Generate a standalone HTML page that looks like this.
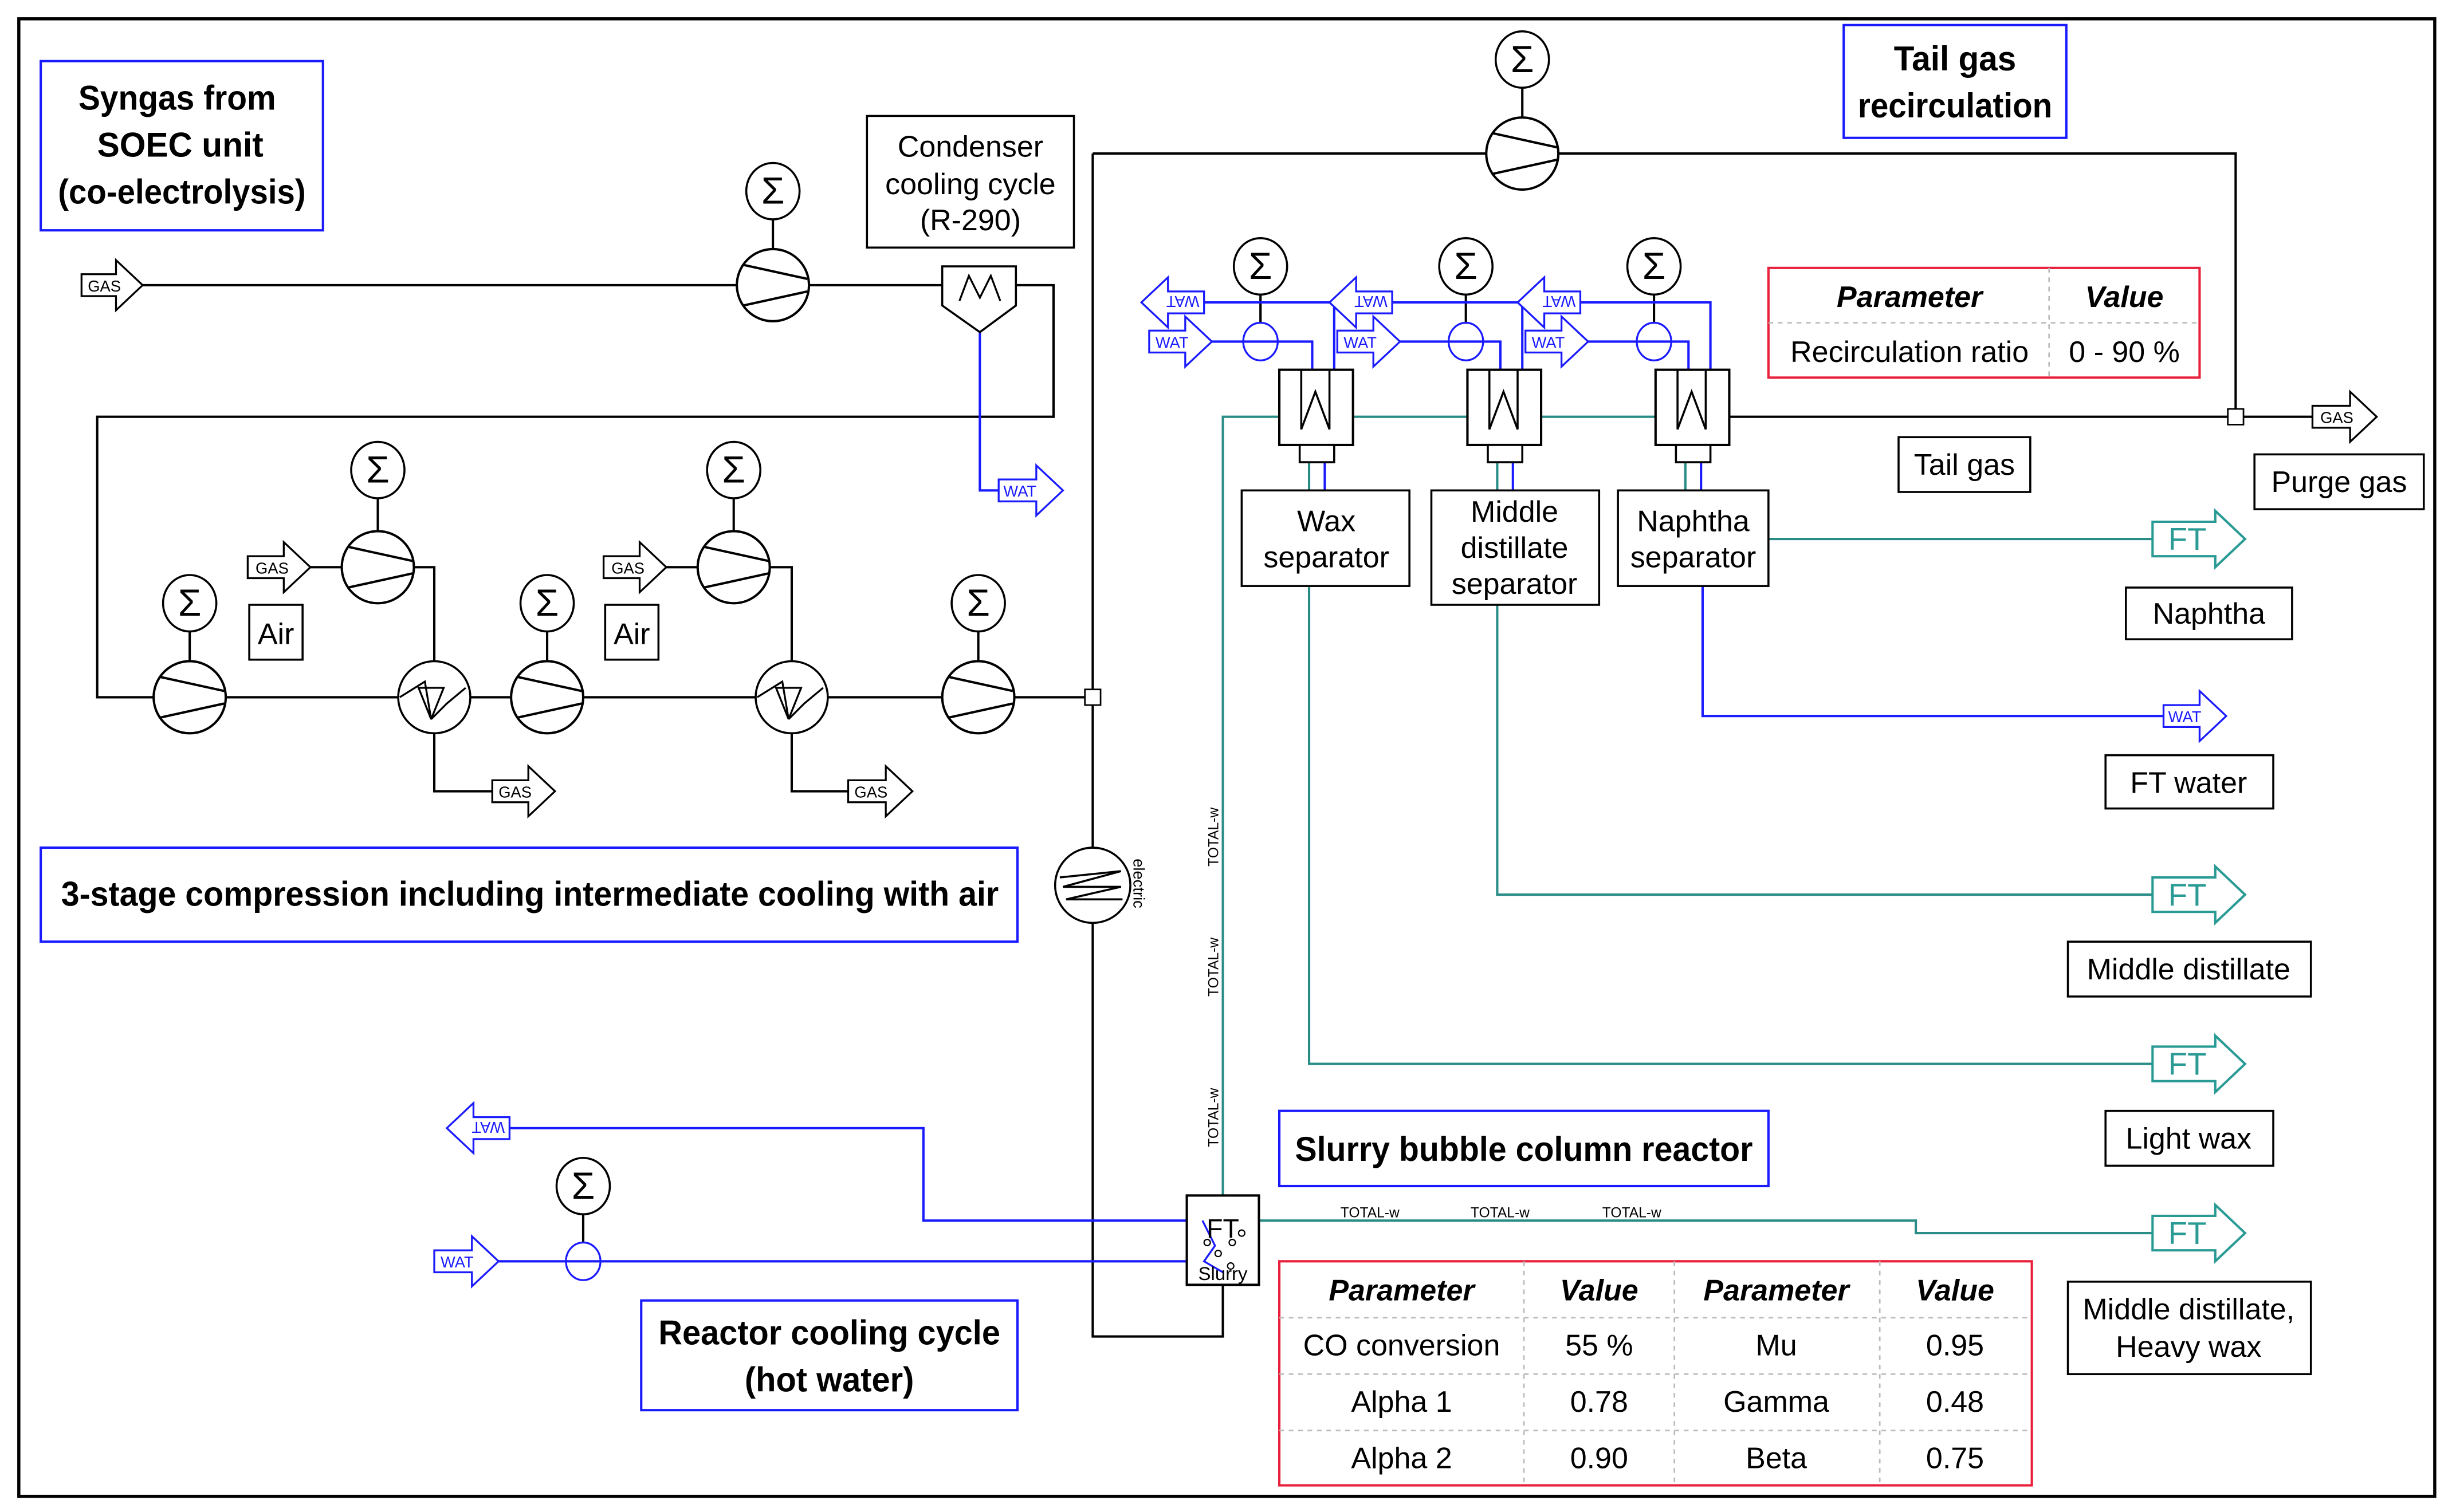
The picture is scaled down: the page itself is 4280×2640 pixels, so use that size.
<!DOCTYPE html>
<html><head><meta charset="utf-8"><style>
html,body{margin:0;padding:0;background:#fff;}
svg{display:block;}
text{font-family:"Liberation Sans",Arial,sans-serif;}
</style></head><body>
<svg width="4280" height="2640" viewBox="0 0 1564 965" preserveAspectRatio="none" xmlns="http://www.w3.org/2000/svg">
<defs>
<g id="comp"><circle r="23" fill="#fff" stroke="#000" stroke-width="1.5"/><line x1="-19" y1="-13" x2="22" y2="-4" stroke="#000" stroke-width="1.5"/><line x1="-19" y1="13" x2="22" y2="4" stroke="#000" stroke-width="1.5"/></g>
<g id="sig"><ellipse rx="17" ry="18" fill="#fff" stroke="#000" stroke-width="1.3"/><text x="0" y="8" font-size="24" text-anchor="middle">Σ</text></g>
<g id="cool"><circle r="23" fill="#fff" stroke="#000" stroke-width="1.3"/><polyline points="-22,0 -6,-10 -2,14 -10,-6 6,-6 -2,14 8,4 20,-6" fill="none" stroke="#000" stroke-width="1.2"/></g>
<g id="hx"><rect x="0" y="0" width="47" height="48" fill="#fff" stroke="#000" stroke-width="1.5"/><polyline points="14,0 14,38 23,14 32,38 32,0" fill="none" stroke="#000" stroke-width="1.3"/><rect x="13" y="48" width="22" height="11" fill="#fff" stroke="#000" stroke-width="1.3"/></g>
</defs>
<rect width="1564" height="965" fill="#fff"/>
<rect x="12" y="12" width="1541" height="943" fill="none" stroke="#000" stroke-width="2"/>

<g fill="none" stroke="#000" stroke-width="1.5">
<polyline points="91,182 601,182"/>
<polyline points="648,182 672,182 672,266 62,266 62,445 697,445"/>
<line x1="493" y1="140" x2="493" y2="159"/>
<line x1="121" y1="403" x2="121" y2="422"/>
<line x1="349" y1="403" x2="349" y2="422"/>
<line x1="624" y1="403" x2="624" y2="422"/>
<line x1="241" y1="318" x2="241" y2="339"/>
<line x1="468" y1="318" x2="468" y2="339"/>
<line x1="971" y1="56" x2="971" y2="75"/>
<line x1="198" y1="362" x2="218" y2="362"/><line x1="425" y1="362" x2="445" y2="362"/>
<polyline points="264,362 277,362 277,422"/>
<polyline points="491,362 505,362 505,422"/>
<polyline points="277,468 277,505 316,505"/>
<polyline points="505,468 505,505 543,505"/>
<polyline points="697,98 697,853 780,853 780,820"/>
<polyline points="697,98 1426,98 1426,266"/>
<polyline points="1102,266 1476,266"/>
<line x1="804" y1="188" x2="804" y2="206"/><line x1="935" y1="188" x2="935" y2="206"/><line x1="1055" y1="188" x2="1055" y2="206"/>
<line x1="372" y1="775" x2="372" y2="793"/>
</g>
<g fill="none" stroke="#2a8c86" stroke-width="1.5">
<polyline points="780,763 780,266 816,266"/>
<line x1="863" y1="266" x2="936" y2="266"/><line x1="983" y1="266" x2="1056" y2="266"/>
<line x1="835" y1="295" x2="835" y2="313"/><line x1="955" y1="295" x2="955" y2="313"/><line x1="1075" y1="295" x2="1075" y2="313"/>
<polyline points="835,374 835,679 1373,679"/>
<polyline points="955,386 955,571 1373,571"/>
<polyline points="1128,344 1373,344"/>
<polyline points="803,779 1222,779 1222,787 1373,787"/>
</g>
<g fill="none" stroke="#1a1aff" stroke-width="1.5">
<polyline points="625,195 625,313 640,313"/>
<line x1="845" y1="295" x2="845" y2="313"/><line x1="965" y1="295" x2="965" y2="313"/><line x1="1085" y1="295" x2="1085" y2="313"/>
<polyline points="1086,374 1086,457 1381,457"/>
<polyline points="318,805 757,805"/>
<polyline points="757,779 589,779 589,720 325,720"/>
<polyline points="773,218 837,218 837,236"/><polyline points="768,193 851,193 851,236"/>
<polyline points="893,218 957,218 957,236"/><polyline points="888,193 971,193 971,236"/>
<polyline points="1013,218 1077,218 1077,236"/><polyline points="1008,193 1091,193 1091,236"/>
</g>

<use href="#sig" x="493" y="122"/><use href="#comp" x="493" y="182"/>
<use href="#sig" x="121" y="385"/><use href="#comp" x="121" y="445"/>
<use href="#sig" x="241" y="300"/><use href="#comp" x="241" y="362"/>
<use href="#sig" x="468" y="300"/><use href="#comp" x="468" y="362"/>
<use href="#sig" x="349" y="385"/><use href="#comp" x="349" y="445"/>
<use href="#sig" x="624" y="385"/><use href="#comp" x="624" y="445"/>
<use href="#cool" x="277" y="445"/><use href="#cool" x="505" y="445"/>
<use href="#sig" x="971" y="38"/><use href="#comp" x="971" y="98"/>
<path d="M601,170 H648 V195 L625,212 L601,195 Z" fill="#fff" stroke="#000" stroke-width="1.3"/>
<polyline points="612,192 618,176 625,190 632,176 638,192" fill="none" stroke="#000" stroke-width="1.2"/>
<rect x="692" y="440" width="10" height="10" fill="#fff" stroke="#000" stroke-width="1"/>
<rect x="1421" y="261" width="10" height="10" fill="#fff" stroke="#000" stroke-width="1"/>
<circle cx="697" cy="565" r="24" fill="#fff" stroke="#000" stroke-width="1.3"/>
<polyline points="676,560 715,556 678,566 715,566 680,574 716,574" fill="none" stroke="#000" stroke-width="1.3"/>
<text x="0" y="0" font-size="10" transform="translate(723,548) rotate(90)">electric</text>
<use href="#hx" x="816" y="236"/><use href="#hx" x="936" y="236"/><use href="#hx" x="1056" y="236"/>
<g fill="#fff" stroke="#1a1aff" stroke-width="1.2">
<ellipse cx="804" cy="218" rx="11" ry="12"/><ellipse cx="935" cy="218" rx="11" ry="12"/><ellipse cx="1055" cy="218" rx="11" ry="12"/>
<ellipse cx="372" cy="805" rx="11" ry="12"/>
</g>
<g fill="none" stroke="#1a1aff" stroke-width="1.5"><line x1="793" y1="218" x2="815" y2="218"/><line x1="924" y1="218" x2="946" y2="218"/><line x1="1044" y1="218" x2="1066" y2="218"/><line x1="361" y1="805" x2="383" y2="805"/></g>
<use href="#sig" x="804" y="170"/><use href="#sig" x="935" y="170"/><use href="#sig" x="1055" y="170"/>
<use href="#sig" x="372" y="757"/>
<rect x="757" y="763" width="46" height="57" fill="#fff" stroke="#000" stroke-width="1.5"/>
<polyline points="767,779 775,795 768,805 780,812" fill="none" stroke="#1a1aff" stroke-width="1.2"/>
<text x="780" y="790" font-size="17" text-anchor="middle">FT</text>
<text x="780" y="817" font-size="12" text-anchor="middle">Slurry</text>
<g fill="none" stroke="#000" stroke-width="0.8"><circle cx="770" cy="793" r="2"/><circle cx="786" cy="793" r="2"/><circle cx="777" cy="800" r="2"/><circle cx="792" cy="787" r="2"/><circle cx="785" cy="808" r="2"/></g>
<g font-size="9" fill="#000">
<text x="855" y="777">TOTAL-w</text><text x="938" y="777">TOTAL-w</text><text x="1022" y="777">TOTAL-w</text>
<text transform="translate(777,553) rotate(-90)">TOTAL-w</text>
<text transform="translate(777,636) rotate(-90)">TOTAL-w</text>
<text transform="translate(777,732) rotate(-90)">TOTAL-w</text>
</g>

<g fill="#fff" stroke="#000" stroke-width="1.2">
<path d="M52,175 H74 V166 L91,182 L74,198 V189 H52 Z"/>
<path d="M158,355 H181 V346 L198,362 L181,378 V369 H158 Z"/>
<path d="M385,355 H408 V346 L425,362 L408,378 V369 H385 Z"/>
<path d="M314,498 H337 V489 L354,505 L337,521 V512 H314 Z"/>
<path d="M541,498 H565 V489 L582,505 L565,521 V512 H541 Z"/>
<path d="M1475,259 H1499 V250 L1516,266 L1499,282 V273 H1475 Z"/>
</g>
<g font-size="10" fill="#000">
<text x="56" y="186">GAS</text><text x="163" y="366">GAS</text><text x="390" y="366">GAS</text>
<text x="318" y="509">GAS</text><text x="545" y="509">GAS</text><text x="1480" y="270">GAS</text>
</g>
<g fill="#fff" stroke="#1a1aff" stroke-width="1.2">
<path d="M637,306 H661 V297 L678,313 L661,329 V320 H637 Z"/>
<path d="M1380,450 H1403 V441 L1420,457 L1403,473 V464 H1380 Z"/>
<path d="M277,798 H301 V789 L318,805 L301,821 V812 H277 Z"/>
<path d="M325,713 H302 V704 L285,720 L302,736 V727 H325 Z"/>
<path d="M733,211 H756 V202 L773,218 L756,234 V225 H733 Z"/>
<path d="M853,211 H876 V202 L893,218 L876,234 V225 H853 Z"/>
<path d="M973,211 H996 V202 L1013,218 L996,234 V225 H973 Z"/>
<path d="M768,186 H745 V177 L728,193 L745,209 V200 H768 Z"/>
<path d="M888,186 H865 V177 L848,193 L865,209 V200 H888 Z"/>
<path d="M1008,186 H985 V177 L968,193 L985,209 V200 H1008 Z"/>
</g>
<g font-size="10" fill="#1a1aff">
<text x="640" y="317">WAT</text><text x="1383" y="461">WAT</text><text x="281" y="809">WAT</text>
<text x="737" y="222">WAT</text><text x="857" y="222">WAT</text><text x="977" y="222">WAT</text>
<text transform="translate(322,716) rotate(180)">WAT</text>
<text transform="translate(765,189) rotate(180)">WAT</text>
<text transform="translate(885,189) rotate(180)">WAT</text>
<text transform="translate(1005,189) rotate(180)">WAT</text>
</g>
<g fill="#fff" stroke="#2a9a94" stroke-width="1.5">
<path d="M1373,333 H1413 V326 L1432,344 L1413,362 V355 H1373 Z"/>
<path d="M1373,560 H1413 V553 L1432,571 L1413,589 V582 H1373 Z"/>
<path d="M1373,668 H1413 V661 L1432,679 L1413,697 V690 H1373 Z"/>
<path d="M1373,776 H1413 V769 L1432,787 L1413,805 V798 H1373 Z"/>
</g>
<g font-size="20" fill="#2a9a94">
<text x="1383" y="351">FT</text><text x="1383" y="578">FT</text><text x="1383" y="686">FT</text><text x="1383" y="794">FT</text>
</g>

<g fill="#fff" stroke="#000" stroke-width="1.3">
<rect x="553" y="74" width="132" height="84"/>
<rect x="159" y="386" width="34" height="35"/><rect x="386" y="386" width="34" height="35"/>
<rect x="792" y="313" width="107" height="61"/><rect x="913" y="313" width="107" height="73"/><rect x="1032" y="313" width="96" height="61"/>
<rect x="1211" y="279" width="84" height="35"/><rect x="1438" y="290" width="108" height="35"/>
<rect x="1356" y="375" width="106" height="33"/><rect x="1343" y="482" width="107" height="34"/>
<rect x="1319" y="601" width="155" height="35"/><rect x="1343" y="709" width="107" height="35"/>
<rect x="1319" y="818" width="155" height="59"/>
</g>
<g font-size="19" text-anchor="middle" fill="#000">
<text x="619" y="100">Condenser</text><text x="619" y="124">cooling cycle</text><text x="619" y="147">(R-290)</text>
<text x="176" y="411">Air</text><text x="403" y="411">Air</text>
<text x="846" y="339">Wax</text><text x="846" y="362">separator</text>
<text x="966" y="333">Middle</text><text x="966" y="356">distillate</text><text x="966" y="379">separator</text>
<text x="1080" y="339">Naphtha</text><text x="1080" y="362">separator</text>
<text x="1253" y="303">Tail gas</text><text x="1492" y="314">Purge gas</text>
<text x="1409" y="398">Naphtha</text><text x="1396" y="506">FT water</text>
<text x="1396" y="625">Middle distillate</text><text x="1396" y="733">Light wax</text>
<text x="1396" y="842">Middle distillate,</text><text x="1396" y="866">Heavy wax</text>
</g>

<g fill="#fff" stroke="#1a1aff" stroke-width="1.5">
<rect x="26" y="39" width="180" height="108"/>
<rect x="1176" y="16" width="142" height="72"/>
<rect x="26" y="541" width="623" height="60"/>
<rect x="816" y="709" width="312" height="48"/>
<rect x="409" y="830" width="240" height="70"/>
</g>
<g font-size="22" font-weight="bold" text-anchor="middle" fill="#000">
<text x="113" y="70" textLength="126" lengthAdjust="spacingAndGlyphs">Syngas from</text>
<text x="115" y="100" textLength="106" lengthAdjust="spacingAndGlyphs">SOEC unit</text>
<text x="116" y="130" textLength="158" lengthAdjust="spacingAndGlyphs">(co-electrolysis)</text>
<text x="1247" y="45" textLength="78" lengthAdjust="spacingAndGlyphs">Tail gas</text>
<text x="1247" y="75" textLength="124" lengthAdjust="spacingAndGlyphs">recirculation</text>
<text x="338" y="578" textLength="598" lengthAdjust="spacingAndGlyphs">3-stage compression including intermediate cooling with air</text>
<text x="972" y="741" textLength="292" lengthAdjust="spacingAndGlyphs">Slurry bubble column reactor</text>
<text x="529" y="858" textLength="218" lengthAdjust="spacingAndGlyphs">Reactor cooling cycle</text>
<text x="529" y="888" textLength="108" lengthAdjust="spacingAndGlyphs">(hot water)</text>
</g>

<rect x="1128" y="171" width="275" height="70" fill="#fff" stroke="#e8203c" stroke-width="1.5"/>
<g stroke="#bbb" stroke-width="1" stroke-dasharray="3,3"><line x1="1128" y1="206" x2="1403" y2="206"/><line x1="1307" y1="171" x2="1307" y2="241"/></g>
<g font-size="19" text-anchor="middle" fill="#000">
<text x="1218" y="196" font-weight="bold" font-style="italic">Parameter</text>
<text x="1355" y="196" font-weight="bold" font-style="italic">Value</text>
<text x="1218" y="231">Recirculation ratio</text><text x="1355" y="231">0 - 90 %</text>
</g>

<rect x="816" y="805" width="480" height="143" fill="#fff" stroke="#e8203c" stroke-width="1.5"/>
<g stroke="#bbb" stroke-width="1" stroke-dasharray="3,3">
<line x1="816" y1="841" x2="1296" y2="841"/><line x1="816" y1="877" x2="1296" y2="877"/><line x1="816" y1="913" x2="1296" y2="913"/>
<line x1="972" y1="805" x2="972" y2="948"/><line x1="1068" y1="805" x2="1068" y2="948"/><line x1="1199" y1="805" x2="1199" y2="948"/>
</g>
<g font-size="19" text-anchor="middle" fill="#000">
<text x="894" y="830" font-weight="bold" font-style="italic">Parameter</text>
<text x="1020" y="830" font-weight="bold" font-style="italic">Value</text>
<text x="1133" y="830" font-weight="bold" font-style="italic">Parameter</text>
<text x="1247" y="830" font-weight="bold" font-style="italic">Value</text>
<text x="894" y="865">CO conversion</text><text x="1020" y="865">55 %</text><text x="1133" y="865">Mu</text><text x="1247" y="865">0.95</text>
<text x="894" y="901">Alpha 1</text><text x="1020" y="901">0.78</text><text x="1133" y="901">Gamma</text><text x="1247" y="901">0.48</text>
<text x="894" y="937">Alpha 2</text><text x="1020" y="937">0.90</text><text x="1133" y="937">Beta</text><text x="1247" y="937">0.75</text>
</g>
</svg>
</body></html>
